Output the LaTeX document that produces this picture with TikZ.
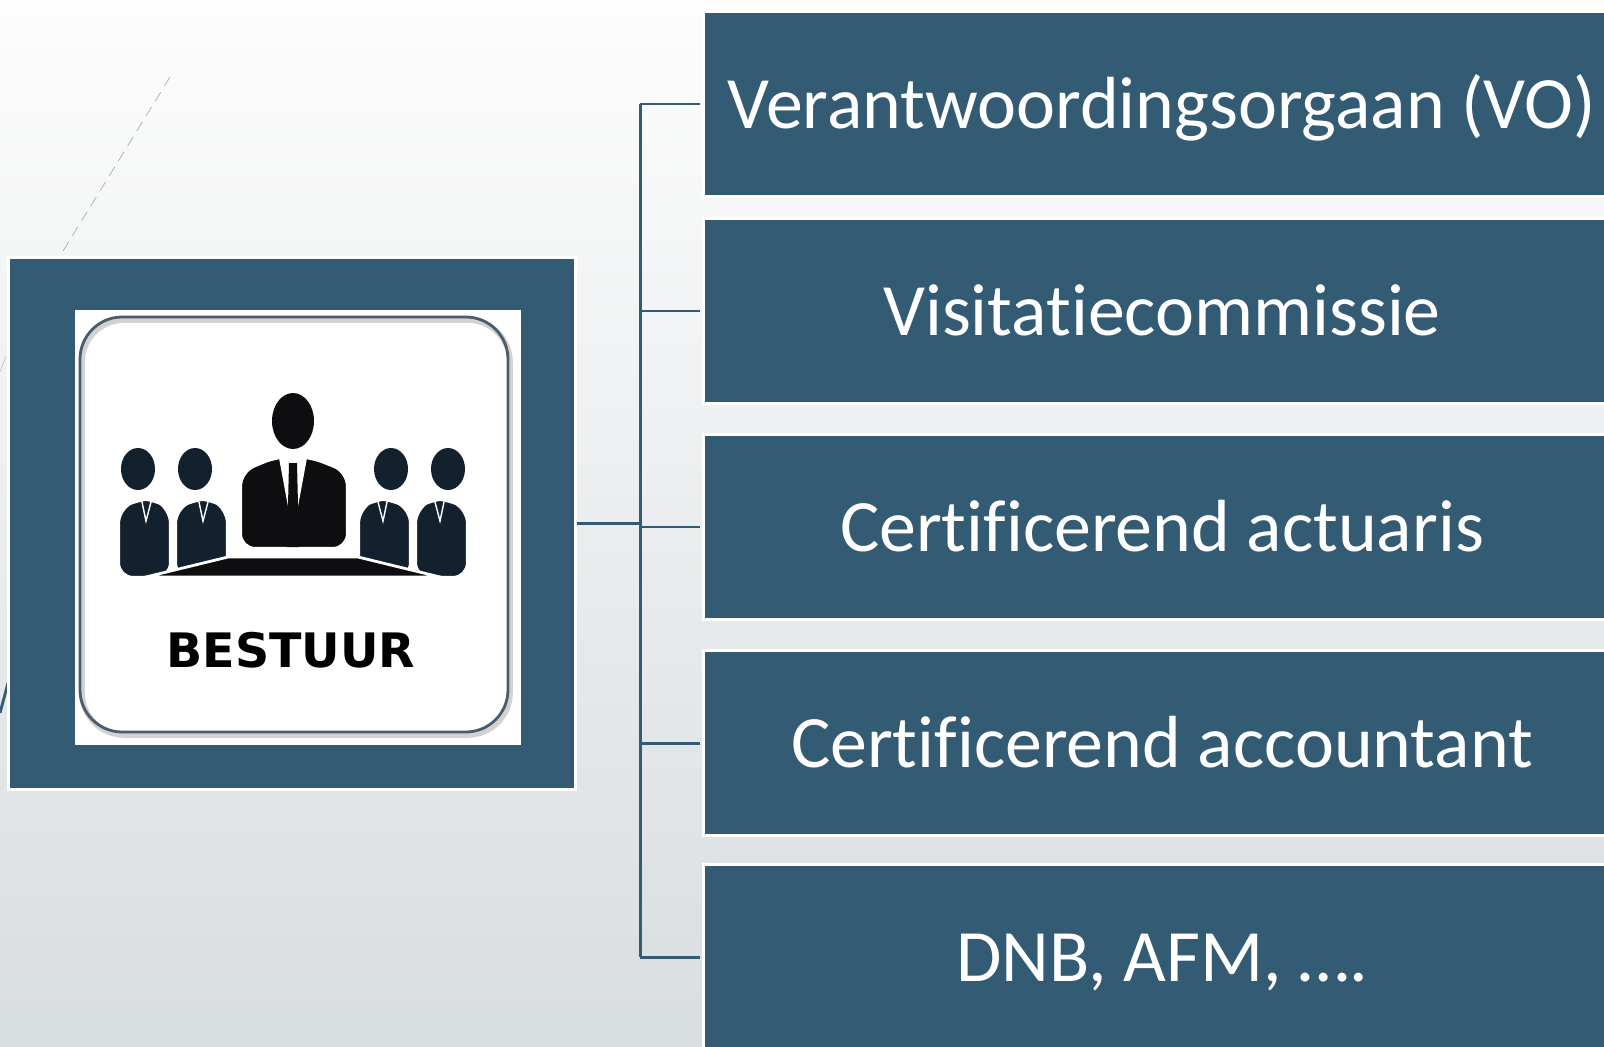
\documentclass[tikz,border=0pt]{standalone}
\usepackage{fontspec}
\setmainfont{Carlito}[Ligatures={NoCommon,NoRare,NoDiscretionary}]
\newfontfamily\iconfont{DejaVu Sans}
\usepackage{tikz}
\usetikzlibrary{shapes.geometric}

\definecolor{boxblue}{HTML}{345B74}
\definecolor{bgtop}{HTML}{FDFDFD}
\definecolor{bgbottom}{HTML}{D8DDE0}
\definecolor{iconink}{HTML}{0E0E10}
\definecolor{iconnavy}{HTML}{13212E}
\definecolor{iconrim}{HTML}{4A5C6E}

\begin{document}
\begin{tikzpicture}[x=0.01cm, y=-0.01cm,
    panel/.style={fill=boxblue, draw=white, line width=0.03cm, inner sep=0pt},
    member/.style={panel, minimum width=9.17cm, minimum height=1.85cm,
        text=white, font=\fontsize{21}{25}\selectfont, text height=0.48cm, text depth=0pt},
    link/.style={draw=boxblue, line width=0.85pt}]

    % Page and background
    \useasboundingbox (0,0) rectangle (1604,1046);
    \clip (0,0) rectangle (1604,1046);
    \shade[top color=bgtop, bottom color=bgbottom] (0,0) rectangle (1604,1046);

    % Faint decoration behind the board
    \draw[gray!65, very thin, densely dashed] (170,77) -- (60,256);
    \draw[gray!45, very thin] (0,372) -- (6,356);
    \draw[boxblue, line width=0.8pt] (0,713) -- (8,683);

    % Board panel with its picture
    \node[panel, minimum width=5.67cm, minimum height=5.31cm] (bestuur) at (292,523.5) {};
    \fill[white] (75,310) rectangle (521,745);
    \draw[gray!35, line width=1.6pt, rounded corners=12pt] (82,320) rectangle (510,735);
    \draw[iconrim, line width=0.8pt, rounded corners=12pt] (80,317) rectangle (508,732);

    % Members at the sides
    \foreach \hx/\s in {138/1, 195/1, 448/-1, 391/-1} {
        \begin{scope}[shift={(\hx,469)}, xscale=\s]
            \fill[iconnavy, draw=white, line width=0.6pt, rounded corners=4pt]
                (-19,108) -- (-19,40) -- (3,30) -- (14,30) -- (32,40) -- (32,108) -- cycle;
            \draw[white, line width=0.4pt] (4,33) -- (8,52) -- (13,33);
            \fill[iconnavy] (0,0) ellipse (17 and 21);
        \end{scope}
    }

    % Chairman
    \fill[iconink, draw=white, line width=0.6pt, rounded corners=4pt]
        (241,548) -- (241,472) -- (277,457) -- (309,457) -- (347,472) -- (347,548) -- cycle;
    \fill[white] (279,458) -- (307,458) -- (294,528) -- (292,528) -- cycle;
    \fill[iconink] (289,463) -- (297,463) -- (299,547) -- (287,547) -- cycle;
    \fill[iconink] (293,421) ellipse (21 and 28);

    % Table
    \fill[iconink, draw=white, line width=0.8pt] (228,557) -- (358,557) -- (440,577) -- (146,577) -- cycle;

    \node[anchor=base, font=\iconfont\bfseries\fontsize{13.5}{16}\selectfont] (label) at (291,667) {BESTUUR};

    % Bodies around the board
    \node[member] (vo) at (1162,104) {Verantwoordingsorgaan (VO)};
    \node[member] (visitatie) at (1162,311) {Visitatiecommissie};
    \node[member] (actuaris) at (1162,527) {Certificerend actuaris};
    \node[member] (accountant) at (1162,743) {Certificerend accountant};
    \node[member] (toezicht) at (1162,957) {DNB, AFM, ….};

    % Connectors
    \coordinate (trunk) at (640,523.5);
    \draw[link] (bestuur.east) -- (trunk);
    \draw[link] (trunk |- vo.west) -- (trunk |- toezicht.west);
    \foreach \n in {vo, visitatie, actuaris, accountant, toezicht}
        \draw[link] (trunk |- \n.west) -- ([xshift=-0.4pt]\n.west);

\end{tikzpicture}
\end{document}
